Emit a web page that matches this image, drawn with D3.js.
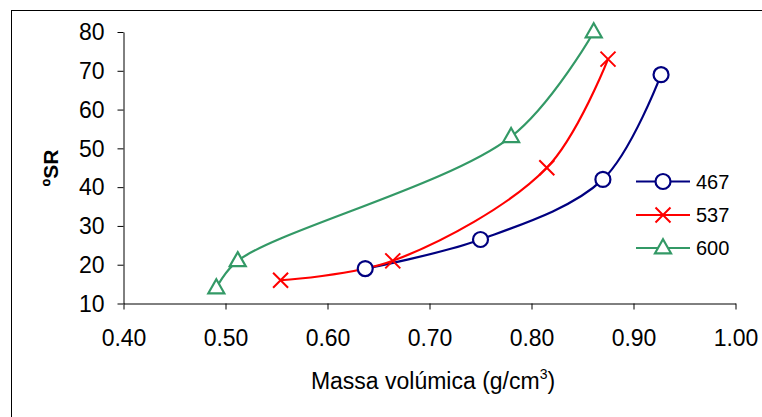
<!DOCTYPE html>
<html><head><meta charset="utf-8">
<script src="https://cdn.jsdelivr.net/npm/d3@7"></script>
<style>body{margin:0;background:#fff}svg{display:block}</style>
</head><body>
<svg id="c" width="762" height="417"></svg>
<script>
const seriesNames = ["467", "537", "600"];
const x467 = [0.637, 0.750, 0.870, 0.927];
const y467 = [19.0, 26.5, 42.0, 69.0];
const x537 = [0.554, 0.664, 0.815, 0.875];
const y537 = [16.0, 21.0, 45.0, 73.0];
const x600 = [0.491, 0.512, 0.780, 0.861];
const y600 = [14.0, 21.0, 53.0, 80.0];
const xTicks = [0.4, 0.5, 0.6, 0.7, 0.8, 0.9, 1.0];
const yTicks = [10, 20, 30, 40, 50, 60, 70, 80];

const colors = ["#000080", "#FF0000", "#339966"];
const shapes = ["circle", "x", "triangle"];
const data = [
  {name: seriesNames[0], xs: x467, ys: y467},
  {name: seriesNames[1], xs: x537, ys: y537},
  {name: seriesNames[2], xs: x600, ys: y600}
];

const svg = d3.select("#c");
const font = "Arial, 'Liberation Sans', sans-serif";

svg.append("rect").attr("x", 11.5).attr("y", 10.5).attr("width", 800).attr("height", 500)
  .attr("fill", "#fff").attr("stroke", "#000").attr("stroke-width", 1);

const x = d3.scaleLinear().domain([0.4, 1.0]).range([123.5, 735.5]);
const y = d3.scaleLinear().domain([10, 80]).range([303.5, 32]);

const yAxis = svg.append("g").attr("transform", "translate(123.5,0)")
  .call(d3.axisLeft(y).tickValues(yTicks).tickSize(6).tickPadding(13).tickSizeOuter(0).tickFormat(d3.format("d")));
const xAxis = svg.append("g").attr("transform", "translate(0,303.5)")
  .call(d3.axisBottom(x).tickValues(xTicks).tickSize(6).tickPadding(20).tickSizeOuter(0).tickFormat(d3.format(".2f")));
[xAxis, yAxis].forEach(g => {
  g.select(".domain").attr("stroke", "#000");
  g.selectAll(".tick line").attr("stroke", "#000");
  g.selectAll("text").attr("font-family", font).attr("font-size", 23).attr("fill", "#000");
});
yAxis.selectAll("text").attr("dy", "0.34em");

// axis titles
const xt = svg.append("text").attr("x", 433).attr("y", 389).attr("text-anchor", "middle")
  .attr("font-family", font).attr("font-size", 23).attr("fill", "#000");
xt.append("tspan").text("Massa volúmica (g/cm");
xt.append("tspan").text("3").attr("font-size", 14).attr("dy", -10);
xt.append("tspan").text(")").attr("dy", 10);

svg.append("text").attr("transform", "translate(58,168) rotate(-90)").attr("text-anchor", "middle")
  .attr("font-family", font).attr("font-size", 21).attr("font-weight", "bold").attr("fill", "#000")
  .text("ºSR");

const line = d3.line().curve(d3.curveCatmullRom.alpha(0.5)).x(d => x(d[0])).y(d => y(d[1]));

function marker(g, shape, cx, cy, color) {
  if (shape === "circle") {
    g.append("circle").attr("cx", cx).attr("cy", cy).attr("r", 7.5)
      .attr("fill", "#fff").attr("stroke", color).attr("stroke-width", 2.2);
  } else if (shape === "x") {
    const s = 7.5;
    g.append("path").attr("d", `M${cx-s},${cy-s}L${cx+s},${cy+s}M${cx-s},${cy+s}L${cx+s},${cy-s}`)
      .attr("stroke", color).attr("stroke-width", 2).attr("fill", "none");
  } else {
    const w = 8, h = 14;
    g.append("path").attr("d", `M${cx},${cy-h*0.62}L${cx+w},${cy+h*0.38}L${cx-w},${cy+h*0.38}Z`)
      .attr("fill", "#fff").attr("stroke", color).attr("stroke-width", 2.2).attr("stroke-linejoin", "miter");
  }
}

data.forEach((s, i) => {
  const pts = s.xs.map((v, j) => [v, s.ys[j]]);
  svg.append("path").attr("d", line(pts)).attr("fill", "none")
    .attr("stroke", colors[i]).attr("stroke-width", 2.2);
});
data.forEach((s, i) => {
  const g = svg.append("g");
  s.xs.forEach((v, j) => marker(g, shapes[i], x(v), y(s.ys[j]), colors[i]));
});

// legend
const legY = [181.5, 215, 248];
data.forEach((s, i) => {
  const g = svg.append("g");
  g.append("line").attr("x1", 636).attr("x2", 690).attr("y1", legY[i]).attr("y2", legY[i])
    .attr("stroke", colors[i]).attr("stroke-width", 2.2);
  marker(g, shapes[i], 663, legY[i], colors[i]);
  g.append("text").attr("x", 696).attr("y", legY[i]).attr("dy", "0.36em")
    .attr("font-family", font).attr("font-size", 20).attr("fill", "#000").text(s.name);
});
</script>
</body></html>
